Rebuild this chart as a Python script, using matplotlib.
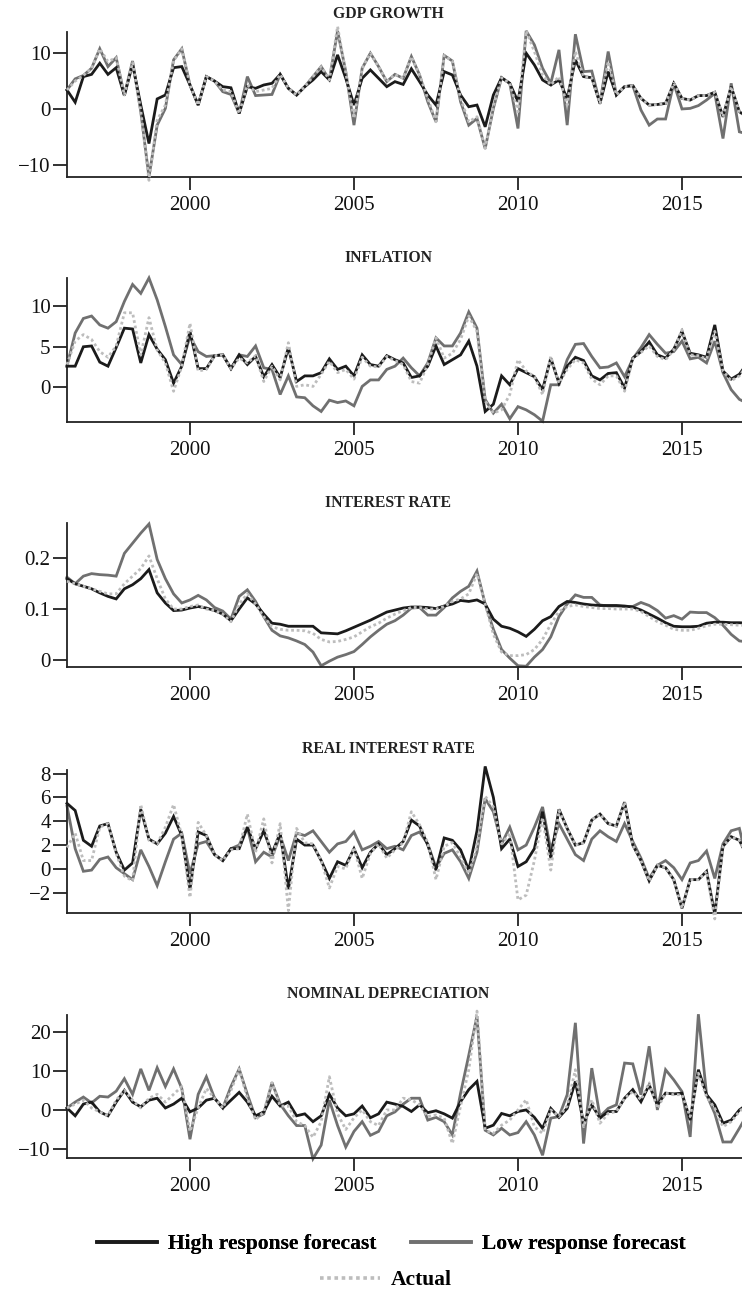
import numpy as np
import matplotlib
matplotlib.use("Agg")
import matplotlib.pyplot as plt
from matplotlib.lines import Line2D

plt.rcParams['font.family'] = ['Liberation Serif', 'DejaVu Serif']

# ---------------- data (quarterly, 1996Q2 ...) ----------------
start_year = 1996.25
n_quarters = 84

gdp_high = [3.4, 1.2, 5.8, 6.2, 8.2, 6.2, 7.4, 2.4, 8.0, 0.7, -6.2, 1.8, 2.5, 7.4, 7.6, 4.3, 0.7, 5.8, 5.0, 4.0,
            3.8, -0.8, 4.0, 3.7, 4.3, 4.6, 6.2, 3.7, 2.5, 4.0, 5.2, 6.7, 5.2, 9.7, 5.5, 0.7, 5.5, 7.0, 5.5, 4.0,
            4.9, 4.4, 7.2, 4.9, 2.5, 0.7, 6.7, 6.1, 2.5, 0.4, 0.7, -3.2, 2.5, 5.6, 4.6, 1.3, 10.0, 7.9, 5.2, 4.3,
            5.2, 1.9, 8.8, 5.8, 5.6, 1.0, 6.7, 2.5, 4.0, 4.2, 1.9, 0.7, 0.8, 1.0, 4.6, 1.9, 1.6, 2.4, 2.4, 3.0,
            -1.4, 4.0, -0.5, -1.5]
gdp_low = [3.4, 5.4, 6.0, 7.3, 10.8, 7.6, 9.2, 2.5, 8.6, -0.5, -12.2, -2.9, 0.1, 8.8, 10.8, 4.3, 0.7, 5.8, 5.0, 3.1,
           2.6, -0.8, 5.8, 2.4, 2.5, 2.6, 6.2, 3.7, 2.5, 4.0, 5.8, 7.6, 5.2, 14.0, 6.7, -2.9, 7.3, 10.0, 7.6, 4.9,
           6.2, 5.5, 9.4, 6.1, 1.3, -2.3, 9.6, 8.6, 1.3, -2.9, -1.7, -7.1, 0.1, 5.6, 4.6, -3.5, 14.0, 11.5, 7.3, 4.6,
           10.6, -2.9, 13.4, 6.7, 6.8, 1.0, 10.3, 2.5, 4.0, 4.2, -0.2, -2.9, -1.8, -1.8, 4.6, 0.0, 0.1, 0.6, 1.6, 2.8,
           -5.3, 4.6, -4.1, -4.5]
gdp_actual = [3.4, 5.0, 6.0, 7.3, 10.8, 8.5, 9.2, 2.5, 8.3, -0.3, -12.8, -2.0, 0.7, 8.6, 10.8, 4.3, 0.7, 5.8, 5.0, 3.4,
              3.1, -0.8, 4.3, 3.1, 3.4, 3.7, 6.2, 3.7, 2.5, 4.0, 5.8, 7.6, 5.2, 14.8, 6.5, -1.7, 7.3, 10.0, 7.6, 4.9,
              6.2, 5.5, 9.4, 6.1, 1.9, -2.3, 9.6, 8.6, 1.9, -2.3, -1.4, -7.1, 0.5, 5.6, 4.6, -0.5, 14.0, 10.3, 6.1, 4.3,
              5.8, 0.7, 10.3, 5.8, 5.6, 1.0, 8.5, 2.5, 4.0, 4.2, 1.9, 0.7, 0.8, 1.0, 4.6, 1.9, 1.6, 2.4, 2.4, 3.0,
              -1.4, 4.0, -0.5, -1.5]

infl_high = [2.6, 2.6, 5.0, 5.1, 3.1, 2.6, 4.9, 7.3, 7.2, 3.0, 6.5, 4.7, 3.4, 0.5, 2.6, 6.9, 2.3, 2.3, 3.9, 4.0,
             2.3, 4.0, 2.8, 3.8, 1.3, 2.8, 1.2, 4.9, 0.7, 1.4, 1.4, 1.8, 3.5, 2.2, 2.6, 1.4, 4.0, 2.8, 2.6, 3.9,
             3.4, 3.0, 1.2, 1.4, 2.6, 5.1, 2.8, 3.4, 4.0, 5.7, 2.6, -3.0, -2.1, 1.4, 0.3, 2.3, 1.8, 1.3, -0.3, 3.6,
             0.5, 2.6, 3.7, 3.3, 1.4, 0.9, 1.7, 1.8, -0.1, 3.6, 4.4, 5.6, 4.0, 3.6, 4.7, 6.9, 4.2, 4.0, 3.7, 7.7,
             2.0, 1.0, 1.6, 3.0]
infl_low = [2.6, 6.7, 8.5, 8.8, 7.7, 7.3, 8.1, 10.6, 12.7, 11.6, 13.5, 10.8, 7.5, 4.0, 2.8, 6.3, 4.4, 3.8, 3.9, 4.0,
            2.3, 4.0, 3.8, 5.1, 2.4, 2.2, -0.9, 1.4, -1.2, -1.3, -2.3, -3.0, -1.6, -1.9, -1.7, -2.3, 0.1, 0.9, 0.9, 2.2,
            2.6, 3.6, 2.4, 1.4, 3.0, 6.1, 5.1, 5.1, 6.7, 9.3, 7.3, -1.5, -3.2, -2.1, -3.9, -2.4, -2.8, -3.4, -4.2, 0.3,
            0.3, 3.4, 5.3, 5.4, 3.8, 2.4, 2.5, 3.0, 1.3, 3.5, 4.9, 6.5, 5.3, 4.2, 4.4, 5.7, 3.5, 3.7, 3.0, 5.7,
            1.8, -0.3, -1.5, -2.0]
infl_actual = [2.8, 5.7, 6.5, 5.9, 4.4, 3.7, 5.1, 9.2, 9.2, 4.0, 8.6, 4.6, 3.0, -0.5, 2.6, 7.9, 2.0, 2.2, 3.9, 4.0,
               2.3, 3.6, 3.0, 3.9, 0.7, 2.6, 0.9, 5.5, 0.1, 0.3, 0.1, 1.6, 3.2, 1.8, 2.2, 1.0, 3.7, 2.6, 2.5, 3.8,
               3.3, 2.8, 0.7, 0.5, 2.8, 6.1, 3.6, 4.2, 5.9, 8.8, 6.9, -1.7, -3.2, -2.8, -0.9, 3.4, 2.0, 1.3, -0.9, 3.8,
               0.5, 2.2, 3.4, 3.0, 1.0, 0.3, 1.4, 1.4, -0.5, 3.5, 4.3, 5.1, 3.8, 3.4, 4.6, 7.1, 4.0, 3.9, 3.5, 6.9,
               2.0, 0.8, 1.4, 2.8]

rate_high = [0.160, 0.150, 0.145, 0.140, 0.132, 0.125, 0.120, 0.140, 0.148, 0.160, 0.178, 0.132, 0.112, 0.097, 0.098,
             0.102, 0.105, 0.102, 0.097, 0.090, 0.077, 0.100, 0.122, 0.110, 0.090, 0.072, 0.070, 0.066, 0.066, 0.066,
             0.066, 0.053, 0.052, 0.051, 0.057, 0.064, 0.071, 0.078, 0.086, 0.094, 0.098, 0.102, 0.104, 0.104, 0.103,
             0.101, 0.106, 0.110, 0.117, 0.115, 0.118, 0.110, 0.080, 0.066, 0.062, 0.055, 0.046, 0.060, 0.077, 0.085,
             0.105, 0.115, 0.113, 0.110, 0.108, 0.107, 0.107, 0.107, 0.106, 0.104, 0.098, 0.090, 0.082, 0.073, 0.066,
             0.065, 0.065, 0.066, 0.072, 0.074, 0.074, 0.073, 0.073, 0.072]
rate_low = [0.163, 0.150, 0.165, 0.170, 0.168, 0.167, 0.165, 0.210, 0.230, 0.250, 0.268, 0.198, 0.160, 0.130, 0.112,
            0.118, 0.127, 0.118, 0.103, 0.096, 0.080, 0.125, 0.138, 0.115, 0.085, 0.058, 0.047, 0.043, 0.037, 0.030,
            0.015, -0.012, -0.003, 0.005, 0.010, 0.016, 0.030, 0.045, 0.058, 0.070, 0.077, 0.088, 0.102, 0.103, 0.088,
            0.088, 0.103, 0.122, 0.135, 0.145, 0.175, 0.110, 0.060, 0.020, 0.003, -0.012, -0.013, 0.005, 0.020, 0.045,
            0.085, 0.110, 0.128, 0.123, 0.123, 0.108, 0.106, 0.106, 0.105, 0.105, 0.113, 0.107, 0.097, 0.082, 0.087,
            0.080, 0.094, 0.093, 0.093, 0.083, 0.068, 0.050, 0.037, 0.035]
rate_actual = [0.155, 0.150, 0.145, 0.140, 0.135, 0.130, 0.130, 0.150, 0.165, 0.180, 0.205, 0.160, 0.120, 0.100, 0.100,
               0.105, 0.108, 0.100, 0.097, 0.090, 0.075, 0.110, 0.130, 0.110, 0.085, 0.065, 0.060, 0.058, 0.058, 0.057,
               0.052, 0.040, 0.035, 0.036, 0.040, 0.045, 0.055, 0.065, 0.072, 0.082, 0.090, 0.097, 0.103, 0.103, 0.100,
               0.100, 0.105, 0.115, 0.120, 0.130, 0.170, 0.110, 0.050, 0.015, 0.008, 0.008, 0.010, 0.020, 0.040, 0.070,
               0.095, 0.105, 0.108, 0.105, 0.103, 0.101, 0.101, 0.100, 0.100, 0.100, 0.095, 0.085, 0.075, 0.068, 0.060,
               0.058, 0.058, 0.062, 0.067, 0.070, 0.070, 0.069, 0.068, 0.068]

real_high = [5.5, 4.9, 2.4, 1.9, 3.6, 3.8, 1.4, -0.1, 0.5, 5.0, 2.5, 2.1, 3.0, 4.4, 2.8, -1.7, 3.1, 2.8, 1.2, 0.7,
             1.7, 1.7, 3.5, 1.7, 3.2, 1.3, 3.0, -1.7, 2.5, 2.0, 2.0, 0.7, -0.8, 0.6, 0.3, 1.7, 0.1, 1.4, 2.1, 1.2,
             1.7, 2.3, 4.1, 3.6, 2.0, -0.1, 2.6, 2.4, 1.6, -0.1, 3.2, 8.6, 6.0, 1.7, 2.5, 0.2, 0.6, 1.7, 4.8, 0.9,
             5.0, 3.4, 2.0, 2.2, 4.1, 4.6, 3.8, 3.6, 5.6, 2.0, 0.7, -1.0, 0.3, 0.1, -0.9, -3.3, -0.9, -0.9, -0.2, -3.8,
             1.9, 2.7, 2.4, 1.0]
real_low = [5.3, 1.7, -0.2, -0.1, 0.8, 1.0, 0.1, -0.4, -0.9, 1.6, 0.2, -1.4, 0.6, 2.5, 3.0, -0.4, 2.1, 2.3, 1.2, 0.7,
            1.7, 2.0, 3.5, 0.6, 1.4, 1.0, 2.8, 0.7, 3.0, 2.8, 3.2, 2.3, 1.4, 2.1, 2.3, 3.1, 1.6, 1.9, 2.3, 1.7,
            1.9, 1.6, 2.8, 3.1, 2.1, 0.1, 1.3, 1.6, 0.6, -0.8, 1.4, 5.9, 4.8, 2.1, 3.5, 1.6, 2.0, 3.5, 5.2, 1.6,
            3.8, 2.5, 1.2, 0.7, 2.5, 3.2, 2.7, 2.3, 3.8, 2.3, 0.9, -0.8, 0.3, 0.7, 0.1, -0.9, 0.5, 0.7, 1.5, -0.8,
            2.1, 3.2, 3.4, 0.5]
real_actual = [1.8, 3.0, 0.7, 0.7, 3.5, 3.8, 1.3, -0.6, -1.0, 5.4, 2.4, 2.1, 3.5, 5.4, 2.8, -2.4, 3.9, 2.8, 1.2, 0.7,
               1.6, 1.7, 4.6, 1.4, 4.2, 0.5, 3.8, -3.5, 3.4, 2.2, 2.1, 0.7, -1.6, 0.2, 0.0, 1.8, -0.8, 1.3, 2.1, 0.9,
               1.6, 2.2, 4.8, 3.7, 2.2, -0.9, 1.9, 2.2, 1.0, -0.4, 1.9, 6.1, 5.2, 2.1, 3.0, -2.6, -2.2, 0.7, 4.3, -0.1,
               4.9, 3.4, 2.0, 2.2, 4.1, 4.6, 3.8, 3.6, 5.6, 2.0, 0.7, -1.0, 0.3, 0.1, -0.9, -3.3, -0.9, -0.9, -0.2, -4.2,
               1.9, 2.7, 2.4, 1.0]

dep_high = [0.5, -1.5, 1.5, 2.0, -0.5, -1.5, 2.0, 5.0, 2.0, 0.8, 2.5, 3.0, 0.5, 1.5, 3.0, -0.5, 0.5, 2.5, 3.0, 0.5,
            2.5, 4.5, 2.0, -1.5, -0.5, 3.5, 1.0, 2.0, -1.5, -1.0, -3.0, -1.5, 4.0, 0.5, -1.5, -1.0, 1.0, -2.0, -1.0, 2.0,
            1.5, 0.9, -0.4, 1.3, -0.7, -0.2, -1.0, -2.1, 2.1, 5.2, 7.3, -4.7, -3.9, -0.9, -1.5, -0.4, 0.0, -1.9, -4.7, 0.4,
            -1.9, 0.4, 7.3, -3.4, 1.3, -2.1, -0.4, -0.4, 3.0, 5.2, 2.1, 6.4, 1.3, 4.3, 4.1, 4.3, -2.6, 10.3, 3.9, 1.3,
            -3.4, -2.6, 0.0, 1.5]
dep_low = [0.5, 2.0, 3.3, 1.8, 3.5, 3.3, 4.8, 8.0, 4.0, 10.5, 5.0, 10.8, 6.0, 10.5, 5.5, -7.5, 4.0, 8.5, 3.0, 0.5,
           6.0, 10.5, 4.0, -2.0, -1.0, 7.0, 1.5, -1.5, -4.0, -4.0, -12.5, -9.0, 2.5, -4.0, -9.5, -5.5, -3.0, -6.5, -5.5, -1.5,
           -0.5, 1.5, 3.0, 3.0, -2.6, -1.9, -3.0, -6.4, 4.3, 14.0, 24.0, -5.2, -6.4, -4.7, -6.4, -5.8, -3.0, -6.4, -11.6, -2.1,
           -1.7, 3.9, 22.3, -8.6, 10.7, -1.7, 0.4, 1.3, 12.0, 11.8, 3.9, 16.3, 0.0, 10.3, 7.7, 4.7, -6.9, 24.5, 3.9, -0.9,
           -8.2, -8.2, -4.7, -1.0]
dep_actual = [0.5, 1.5, 2.5, 0.5, -0.5, -1.5, 2.5, 5.0, 2.5, 0.5, 3.0, 4.0, 2.0, 4.0, 6.0, -5.5, 0.5, 5.5, 3.0, 0.5,
              5.0, 10.5, 3.0, -2.5, -0.5, 7.0, 1.0, 1.0, -3.0, -4.0, -7.0, -3.0, 8.5, -1.0, -5.0, -2.0, 0.0, -3.0, -4.0, 0.0,
              0.0, 3.0, 2.6, 1.3, -1.7, -1.3, -2.1, -8.6, 1.0, 10.3, 25.3, -5.2, -6.0, -3.9, -2.6, 0.0, 2.6, -4.3, -6.0, 0.0,
              -1.7, 1.0, 10.3, -4.3, 2.6, -3.4, -0.9, -0.4, 3.0, 4.7, 2.6, 6.9, 0.4, 4.3, 3.9, 3.9, -1.7, 9.4, 3.4, 0.4,
              -4.3, -3.0, -0.4, 1.5]

titles = ["GDP GROWTH", "INFLATION", "INTEREST RATE", "REAL INTEREST RATE", "NOMINAL DEPRECIATION"]
y_ticks = [[-10, 0, 10], [0, 5, 10], [0, 0.1, 0.2], [-2, 0, 2, 4, 6, 8], [-10, 0, 10, 20]]
y_ticklabels = [["\u221210", "0", "10"], ["0", "5", "10"], ["0", "0.1", "0.2"],
                ["\u22122", "0", "2", "4", "6", "8"], ["\u221210", "0", "10", "20"]]
x_ticks = [2000, 2005, 2010, 2015]
legend_labels = ["High response forecast", "Low response forecast", "Actual"]

series = [
    (gdp_high, gdp_low, gdp_actual),
    (infl_high, infl_low, infl_actual),
    (rate_high, rate_low, rate_actual),
    (real_high, real_low, real_actual),
    (dep_high, dep_low, dep_actual),
]
ylims = [(-12.2, 13.8), (-4.3, 13.5), (-0.0145, 0.27), (-3.7, 8.3), (-12.3, 24.3)]

dates = start_year + 0.25 * np.arange(n_quarters)

# ---------------- layout ----------------
W, H = 742, 1289
fig = plt.figure(figsize=(W / 100, H / 100), dpi=100)

panels_px = [(32, 177), (278, 422), (523, 667), (770, 913), (1015, 1158)]
title_y_px = [14, 258, 503, 749, 994]
left_px, right_px = 67.3, 742

C_HIGH = "#1b1b1b"
C_LOW = "#707070"
C_ACT = "#bdbdbd"
LW = 2.0

for k, ((top, bot), (hi, lo, ac)) in enumerate(zip(panels_px, series)):
    ax = fig.add_axes([left_px / W, 1 - bot / H, (right_px - left_px) / W, (bot - top) / H])
    assert len(hi) == n_quarters and len(lo) == n_quarters and len(ac) == n_quarters
    ax.plot(dates, lo, color=C_LOW, lw=LW, solid_joinstyle='miter', clip_on=False, zorder=2)
    ax.plot(dates, hi, color=C_HIGH, lw=LW, solid_joinstyle='miter', clip_on=False, zorder=3)
    ax.plot(dates, ac, color=C_ACT, lw=LW, linestyle=(0, (1.0, 1.0)), clip_on=False, zorder=4)
    ax.set_xlim(1996.26, 2016.83)
    ax.set_ylim(*ylims[k])
    ax.set_xticks(x_ticks)
    ax.set_xticklabels([str(t) for t in x_ticks])
    ax.set_yticks(y_ticks[k])
    ax.set_yticklabels(y_ticklabels[k])
    for s in ["top", "right"]:
        ax.spines[s].set_visible(False)
    for s in ["left", "bottom"]:
        ax.spines[s].set_linewidth(1.3)
        ax.spines[s].set_color("#222222")
    ax.tick_params(axis='both', direction='out', width=1.3, colors="#222222",
                   labelsize=15, labelcolor="#111111")
    ax.tick_params(axis='y', length=10, pad=2)
    ax.tick_params(axis='x', length=9, pad=5)
    ax.patch.set_alpha(0)
    fig.text(388 / W, 1 - title_y_px[k] / H, titles[k], ha='center', va='center',
             fontsize=11.3, color="#222222", fontweight='bold')

# ---------------- legend ----------------
h_high = Line2D([], [], color=C_HIGH, lw=2.6)
h_low = Line2D([], [], color=C_LOW, lw=2.6)
h_act = Line2D([], [], color=C_ACT, lw=2.6, linestyle=(0, (1.0, 1.0)))
prop = dict(weight='bold', size=15.5)
leg1 = fig.legend([h_high, h_low], legend_labels[:2], loc='center',
                  bbox_to_anchor=(391 / W, 1 - 1244 / H), ncol=2, frameon=False,
                  prop=prop, handlelength=2.8, handletextpad=0.5, columnspacing=1.6)
fig.add_artist(leg1)
leg2 = fig.legend([h_act], legend_labels[2:], loc='center',
                  bbox_to_anchor=(386 / W, 1 - 1280 / H), frameon=False,
                  prop=prop, handlelength=2.8, handletextpad=0.5)

fig.savefig("out.png", dpi=100)
